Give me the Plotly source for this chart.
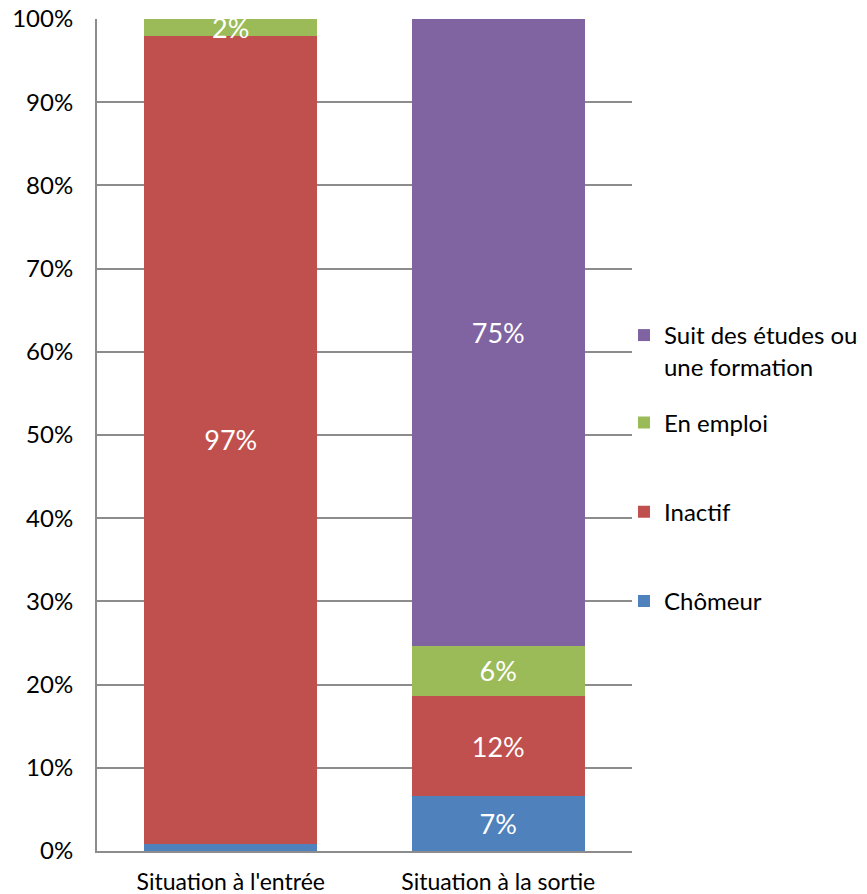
import plotly.graph_objects as go

categories = ["Situation à l'entrée", "Situation à la sortie"]
chomeur = [0.9, 6.6]
inactif = [97.1, 12.0]
emploi = [2.0, 6.1]
etudes = [0.0, 75.3]
chomeur_lbl = ["", "7%"]
inactif_lbl = ["97%", "12%"]
emploi_lbl = ["2%", "6%"]
etudes_lbl = ["", "75%"]
y_ticks = list(range(0, 101, 10))
y_tick_text = [f"{v}%" for v in y_ticks]

FONT = "Lato"
series = [
    ("Chômeur", chomeur, chomeur_lbl, "#4F81BD", "legend", "g1", 3),
    ("Inactif", inactif, inactif_lbl, "#C0504D", "legend", "g2", 2),
    ("En emploi", emploi, emploi_lbl, "#9BBB59", "legend", "g3", 1),
    ("Suit des études ou<br>une formation", etudes, etudes_lbl, "#8064A2", "legend2", "g4", 0),
]

fig = go.Figure()
for name, vals, lbl, col, leg, grp, rank in series:
    fig.add_trace(go.Bar(
        x=categories, y=vals, name=name, marker=dict(color=col, line=dict(width=0)),
        text=lbl, textposition="inside", insidetextanchor="middle",
        textfont=dict(color="white", size=27, family=FONT),
        textangle=0, constraintext="none", cliponaxis=False,
        legend=leg, legendgroup=grp, legendrank=rank,
    ))

fig.update_layout(
    barmode="stack", bargap=0.353,
    width=867, height=894,
    margin=dict(l=97, r=235, t=19, b=43, autoexpand=False),
    plot_bgcolor="white", paper_bgcolor="white",
    font=dict(family=FONT, size=24, color="black"),
    uniformtext=dict(mode=False),
    legend=dict(x=0.985, xanchor="left", y=0.4075, yanchor="middle",
                traceorder="grouped", tracegroupgap=55,
                font=dict(size=24, family=FONT), itemwidth=30,
                bgcolor="rgba(0,0,0,0)"),
    legend2=dict(x=0.985, xanchor="left", y=0.601, yanchor="middle",
                 valign="top",
                 font=dict(size=24, family=FONT), itemwidth=30,
                 bgcolor="rgba(0,0,0,0)"),
)
fig.update_yaxes(range=[0, 100], tickvals=y_ticks, ticktext=y_tick_text,
                 showgrid=True, gridcolor="#8c8c8c", gridwidth=1.5,
                 showline=True, linecolor="#8c8c8c", linewidth=2,
                 ticks="", ticklabelstandoff=17, zeroline=False, automargin=False)
fig.update_xaxes(showline=True, linecolor="#8c8c8c", linewidth=2,
                 ticks="", ticklabelstandoff=9, automargin=False,
                 tickfont=dict(size=23))

fig.write_html("out.html", post_script="document.body.style.margin='0';",
               config={"displayModeBar": False})
